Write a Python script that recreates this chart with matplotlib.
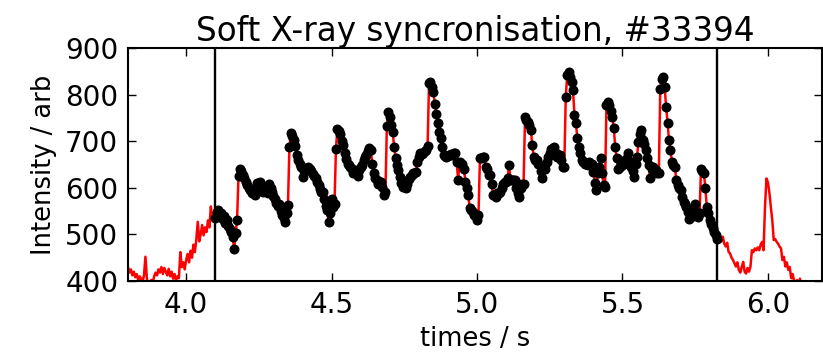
import numpy as np
import matplotlib
matplotlib.use("Agg")
import matplotlib.pyplot as plt

# soft X-ray intensity (arb), sampled every 5 ms; one list per 0.1 s block
t_step = 0.005
block_starts = [3.8, 3.9, 4.0, 4.1, 4.2, 4.3, 4.4, 4.5, 4.6, 4.7, 4.8, 4.9,
                5.0, 5.1, 5.2, 5.3, 5.4, 5.5, 5.6, 5.7, 5.8, 5.9, 6.0, 6.1]

sxr_3_8 = [430, 418, 425, 412, 420, 408, 415, 402, 410, 405, 398, 412, 452, 405, 392, 396, 402, 396, 410, 418]
sxr_3_9 = [412, 425, 418, 430, 415, 428, 420, 412, 426, 410, 420, 405, 415, 402, 410, 406, 462, 430, 440, 425]
sxr_4_0 = [445, 458, 440, 465, 450, 478, 462, 490, 527, 485, 500, 520, 498, 515, 505, 530, 515, 560, 530, 545]
sxr_4_1 = [535, 548, 552, 538, 545, 532, 540, 525, 530, 518, 512, 505, 495, 468, 502, 531, 625, 640, 635, 628]
sxr_4_2 = [620, 612, 605, 600, 595, 588, 592, 585, 598, 610, 600, 613, 598, 590, 602, 595, 588, 608, 600, 590]
sxr_4_3 = [582, 575, 568, 560, 565, 550, 541, 535, 527, 545, 563, 688, 718, 712, 702, 690, 670, 660, 652, 645]
sxr_4_4 = [623, 635, 641, 638, 645, 640, 636, 630, 625, 620, 612, 605, 598, 592, 590, 575, 560, 552, 527, 545]
sxr_4_5 = [577, 559, 565, 684, 727, 722, 715, 700, 691, 674, 662, 652, 648, 645, 640, 632, 638, 632, 625, 638]
sxr_4_6 = [645, 649, 660, 666, 670, 678, 686, 681, 650, 631, 622, 616, 609, 612, 613, 602, 584, 590, 732, 763]
sxr_4_7 = [752, 734, 720, 688, 665, 649, 638, 624, 610, 602, 609, 599, 609, 618, 624, 628, 631, 632, 634, 655]
sxr_4_8 = [666, 674, 672, 674, 678, 681, 690, 824, 827, 816, 806, 780, 759, 738, 720, 706, 688, 670, 668, 666]
sxr_4_9 = [668, 670, 672, 670, 674, 674, 656, 616, 656, 652, 652, 641, 613, 600, 584, 556, 552, 549, 541, 541]
sxr_5_0 = [531, 541, 663, 665, 666, 666, 645, 640, 627, 627, 609, 584, 584, 581, 588, 588, 591, 600, 609, 612]
sxr_5_1 = [613, 620, 649, 616, 616, 616, 616, 600, 588, 581, 599, 609, 609, 752, 745, 741, 734, 724, 691, 666]
sxr_5_2 = [659, 659, 652, 649, 635, 620, 641, 641, 655, 666, 675, 684, 686, 688, 675, 666, 668, 670, 660, 645]
sxr_5_3 = [645, 795, 841, 849, 838, 827, 809, 756, 738, 706, 688, 675, 659, 655, 652, 650, 649, 656, 652, 652]
sxr_5_4 = [634, 610, 595, 631, 645, 663, 631, 606, 602, 777, 784, 777, 765, 752, 729, 688, 663, 641, 645, 649]
sxr_5_5 = [649, 652, 660, 663, 674, 656, 645, 635, 624, 650, 666, 699, 715, 724, 702, 695, 681, 665, 649, 620]
sxr_5_6 = [641, 645, 638, 638, 631, 631, 813, 834, 838, 816, 774, 740, 702, 681, 656, 648, 645, 616, 606, 600]
sxr_5_7 = [595, 581, 570, 565, 559, 549, 534, 538, 541, 555, 566, 544, 537, 545, 641, 635, 631, 599, 559, 545]
sxr_5_8 = [531, 522, 513, 505, 499, 491, 488, 498, 485, 495, 480, 474, 482, 462, 459, 450, 445, 438, 431, 440]
sxr_5_9 = [424, 418, 430, 441, 420, 416, 428, 420, 431, 466, 462, 470, 466, 472, 466, 478, 484, 466, 559, 620]
sxr_6_0 = [612, 590, 559, 531, 488, 490, 484, 480, 474, 470, 445, 452, 431, 440, 424, 430, 406, 415, 400, 395]
sxr_6_1 = [402, 390, 405, 388, 382, 378, 375, 372, 370, 368, 366, 365, 364, 363, 362, 361, 360, 360]

blocks = [sxr_3_8, sxr_3_9, sxr_4_0, sxr_4_1, sxr_4_2, sxr_4_3, sxr_4_4, sxr_4_5,
          sxr_4_6, sxr_4_7, sxr_4_8, sxr_4_9, sxr_5_0, sxr_5_1, sxr_5_2, sxr_5_3,
          sxr_5_4, sxr_5_5, sxr_5_6, sxr_5_7, sxr_5_8, sxr_5_9, sxr_6_0, sxr_6_1]

# synchronisation window (s)
sync_start = 4.10
sync_end = 5.825

title = "Soft X-ray syncronisation, #33394"
xlabel = "times / s"
ylabel = "Intensity / arb"
x_ticks = [4.0, 4.5, 5.0, 5.5, 6.0]
y_ticks = [400, 500, 600, 700, 800, 900]

times = np.concatenate([s + t_step * np.arange(len(b)) for s, b in zip(block_starts, blocks)])
values = np.concatenate([np.asarray(b, dtype=float) for b in blocks])
mask = (times >= sync_start - 1e-9) & (times <= sync_end + 1e-9)

fig = plt.figure(figsize=(8.23, 3.53), dpi=100)
ax = fig.add_axes([0.1555, 0.204, 0.8433, 0.66])

ax.plot(times, values, color="#ff0000", lw=1.8, zorder=2)
ax.plot(times[mask], values[mask], "o", color="black", ms=6.2,
        mec="black", zorder=3)
ax.axvline(sync_start, color="black", lw=1.7, zorder=4)
ax.axvline(sync_end, color="black", lw=1.7, zorder=4)

ax.set_xlim(3.80, 6.186)
ax.set_ylim(400, 900)
ax.set_xticks(x_ticks)
ax.set_yticks(y_ticks)
ax.set_xticklabels([f"{v:.1f}" for v in x_ticks])
ax.set_yticklabels([str(v) for v in y_ticks])
ax.tick_params(direction="in", top=True, right=True, length=6, width=1,
               labelsize=20, pad=7)
for s in ax.spines.values():
    s.set_linewidth(1.5)

ax.set_title(title, fontsize=23.5, pad=5)
ax.set_xlabel(xlabel, fontsize=18.5, labelpad=5)
ax.set_ylabel(ylabel, fontsize=18.5, labelpad=6)

fig.savefig("out.png", dpi=100)
